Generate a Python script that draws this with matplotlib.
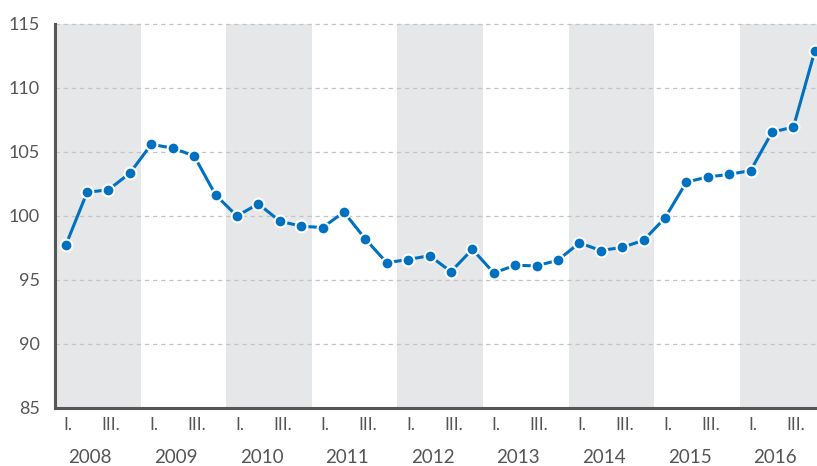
import numpy as np
import matplotlib.pyplot as plt

plt.rcParams['font.family'] = ['Lato', 'DejaVu Sans']

years = [2008, 2009, 2010, 2011, 2012, 2013, 2014, 2015, 2016]
quarter_labels = ['I.', '', 'III.', '']
values = [97.7, 101.85, 102.05, 103.35,
          105.6, 105.3, 104.7, 101.65,
          100.0, 100.95, 99.6, 99.2,
          99.1, 100.3, 98.2, 96.35,
          96.6, 96.9, 95.65, 97.4,
          95.55, 96.15, 96.1, 96.55,
          97.9, 97.3, 97.55, 98.1,
          99.85, 102.65, 103.05, 103.25,
          103.55, 106.55, 106.95, 112.9]
yticks = [85, 90, 95, 100, 105, 110, 115]

text_col = '#555555'
blue = '#0070c0'

fig = plt.figure(figsize=(8.17, 4.66), dpi=100)
ax = fig.add_axes([0.0673, 0.1245, 0.9327, 0.824])

x = np.arange(len(values)) + 0.5

# shaded bands for every other year
for k, yr in enumerate(years):
    if k % 2 == 0:
        ax.axvspan(4 * k, 4 * k + 4, color='#e6e7e9', lw=0, zorder=0)

for t in yticks[1:]:
    ax.axhline(t, color='#c4c4c4', lw=0.9, ls=(0, (3.5, 3)), zorder=1, clip_on=False)

ax.plot(x, values, color=blue, lw=2.2, marker='o', ms=8.5,
        mfc=blue, mec='white', mew=1.5, zorder=3)

ax.set_xlim(0, 35.6)
ax.set_ylim(85, 115)
ax.set_yticks(yticks)
ax.set_yticklabels([str(t) for t in yticks], fontsize=13, color=text_col)
ax.tick_params(axis='y', length=0, pad=11)
ax.set_xticks([])

for k, yr in enumerate(years):
    for q, lab in enumerate(quarter_labels):
        if lab:
            ax.text(4 * k + q + 0.62, -0.045, lab, transform=ax.get_xaxis_transform(),
                    ha='center', va='center', fontsize=12.5, color=text_col)
    ax.text(4 * k + 1.65, -0.13, str(yr), transform=ax.get_xaxis_transform(),
            ha='center', va='center', fontsize=13.5, color=text_col)

for s in ['top', 'right']:
    ax.spines[s].set_visible(False)
for s in ['left', 'bottom']:
    ax.spines[s].set_color('#555555')
    ax.spines[s].set_linewidth(2.2)
    ax.spines[s].set_zorder(4)

fig.savefig('out.png', dpi=100)
